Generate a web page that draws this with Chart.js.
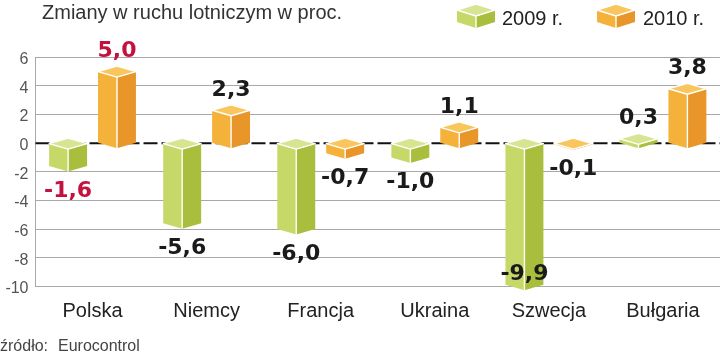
<!DOCTYPE html>
<html><head><meta charset="utf-8">
<script src="https://cdn.jsdelivr.net/npm/chart.js@4.4.0/dist/chart.umd.min.js"></script>
<style>html,body{margin:0;padding:0;background:#fff}#wrap{width:720px;height:356px;position:relative}</style>
</head><body><div id="wrap"><canvas id="c" width="720" height="356"></canvas></div>
<script>
const categories = ['Polska', 'Niemcy', 'Francja', 'Ukraina', 'Szwecja', 'Bułgaria'];
const values2009 = [-1.6, -5.6, -6.0, -1.0, -9.9, 0.3];
const values2010 = [5.0, 2.3, -0.7, 1.1, -0.1, 3.8];
const seriesNames = ['2009 r.', '2010 r.'];
const yTicks = [-10, -8, -6, -4, -2, 0, 2, 4, 6];
const titleText = 'Zmiany w ruchu lotniczym w proc.';
const sourceLabel = 'źródło:';
const sourceName = 'Eurocontrol';
const highlightCategory = 'Polska';

const palettes = [
  { top: '#d6e591', left: '#c6d968', right: '#a9be3c' },
  { top: '#f8c65c', left: '#f4b23b', right: '#e8962a' }
];
const FONT = "'Liberation Sans', Arial, sans-serif";
const BOLD = "'DejaVu Sans', sans-serif";
const D = 5.5;

function prism(ctx, cx, w, top, bot, d, pal) {
  const L = cx - w / 2, R = cx + w / 2;
  ctx.save();
  ctx.lineJoin = 'round';
  ctx.beginPath();
  ctx.moveTo(L, top); ctx.lineTo(cx, top + d); ctx.lineTo(cx, bot + d); ctx.lineTo(L, bot); ctx.closePath();
  ctx.fillStyle = pal.left; ctx.fill();
  ctx.beginPath();
  ctx.moveTo(cx, top + d); ctx.lineTo(R, top); ctx.lineTo(R, bot); ctx.lineTo(cx, bot + d); ctx.closePath();
  ctx.fillStyle = pal.right; ctx.fill();
  ctx.beginPath();
  ctx.moveTo(L, top); ctx.lineTo(cx, top - d); ctx.lineTo(R, top); ctx.lineTo(cx, top + d); ctx.closePath();
  ctx.fillStyle = pal.top; ctx.fill();
  ctx.strokeStyle = '#ffffff'; ctx.lineWidth = 1.4;
  ctx.beginPath();
  ctx.moveTo(L, top); ctx.lineTo(cx, top - d); ctx.lineTo(R, top); ctx.lineTo(cx, top + d); ctx.closePath();
  ctx.moveTo(cx, top + d); ctx.lineTo(cx, bot + d);
  ctx.stroke();
  ctx.restore();
}

function fmt(v) { return (v < 0 ? '-' : '') + Math.abs(v).toFixed(1).replace('.', ','); }

const deco = {
  id: 'deco',
  beforeDatasetsDraw(chart) {
    const { ctx, chartArea, scales } = chart;
    const y0 = scales.y.getPixelForValue(0);
    ctx.save();
    ctx.strokeStyle = '#111'; ctx.lineWidth = 2; ctx.setLineDash([14, 4]);
    ctx.beginPath(); ctx.moveTo(chartArea.left, y0); ctx.lineTo(chartArea.right, y0); ctx.stroke();
    ctx.restore();
  },
  afterDatasetsDraw(chart) {
    const { ctx, chartArea } = chart;
    chart.data.datasets.forEach((ds, di) => {
      const meta = chart.getDatasetMeta(di);
      meta.data.forEach((el, i) => {
        const p = el.getProps(['x', 'y', 'base', 'width'], true);
        const top = Math.min(p.y, p.base), bot = Math.max(p.y, p.base);
        prism(ctx, p.x, p.width, top, bot, D, palettes[di]);
      });
    });
    chart.data.datasets.forEach((ds, di) => {
      const meta = chart.getDatasetMeta(di);
      meta.data.forEach((el, i) => {
        const p = el.getProps(['x', 'y', 'base', 'width'], true);
        const v = ds.data[i];
        let base;
        if (v >= 0) base = p.y - D - 9;
        else {
          base = p.y + D + 25;
          if (base > chartArea.bottom) base = chartArea.bottom - 6;
        }
        ctx.save();
        ctx.font = 'bold 22px ' + BOLD;
        ctx.fillStyle = chart.data.labels[i] === highlightCategory ? '#c4123f' : '#1a1a1a';
        ctx.textAlign = 'center'; ctx.textBaseline = 'alphabetic';
        ctx.fillText(fmt(v), p.x, base);
        ctx.restore();
      });
    });
  },
  afterDraw(chart) {
    const { ctx } = chart;
    ctx.save();
    ctx.font = '20px ' + FONT; ctx.fillStyle = '#333'; ctx.textBaseline = 'alphabetic'; ctx.textAlign = 'left';
    ctx.fillText(titleText, 42, 19);
    // legend
    prism(ctx, 476, 38, 10, 22, 6, palettes[0]);
    prism(ctx, 616, 38, 10, 22, 6, palettes[1]);
    ctx.fillStyle = '#222';
    ctx.fillText(seriesNames[0], 502, 25);
    ctx.fillText(seriesNames[1], 643, 25);
    ctx.font = '16px ' + FONT; ctx.fillStyle = '#444';
    ctx.fillText(sourceLabel, 0, 351);
    ctx.fillText(sourceName, 58, 351);
    ctx.restore();
  }
};

new Chart(document.getElementById('c'), {
  type: 'bar',
  data: {
    labels: categories,
    datasets: [
      { label: seriesNames[0], data: values2009, backgroundColor: 'rgba(0,0,0,0)', borderWidth: 0, categoryPercentage: 0.857, barPercentage: 0.776 },
      { label: seriesNames[1], data: values2010, backgroundColor: 'rgba(0,0,0,0)', borderWidth: 0, categoryPercentage: 0.857, barPercentage: 0.776 }
    ]
  },
  options: {
    responsive: false,
    animation: false,
    layout: { padding: { top: 57.3, bottom: 19.7, left: 0, right: 0 } },
    plugins: { legend: { display: false }, tooltip: { enabled: false }, title: { display: false } },
    scales: {
      x: {
        afterFit: s => { s.height = 50; },
        grid: { display: false, drawTicks: false },
        border: { display: false },
        ticks: { padding: 13, font: { family: FONT, size: 20 }, color: '#222', maxRotation: 0, autoSkip: false }
      },
      y: {
        min: -10, max: 6,
        afterBuildTicks: s => { s.ticks = yTicks.map(v => ({ value: v })); },
        afterFit: s => { s.width = 35.5; },
        grid: { color: c => (c.tick && c.tick.value === 0) ? 'rgba(0,0,0,0)' : '#a8a8a8', lineWidth: 1, drawTicks: false },
        border: { display: true, color: '#a8a8a8', width: 1 },
        ticks: { padding: 7, labelOffset: 2.5, font: { family: FONT, size: 16 }, color: '#555', callback: v => String(v) }
      }
    }
  },
  plugins: [deco]
});
</script>
</body></html>
